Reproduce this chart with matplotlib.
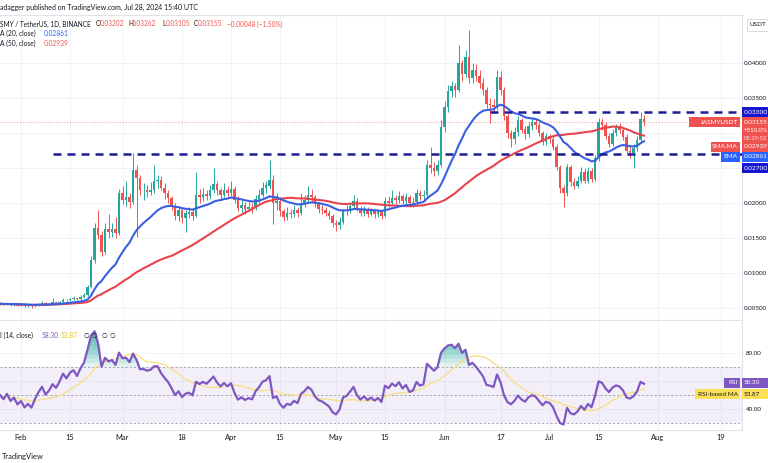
import numpy as np
import pandas as pd
import matplotlib
matplotlib.use('Agg')
import matplotlib.pyplot as plt
import matplotlib.dates as mdates
from matplotlib.patches import Rectangle

plt.rcParams['font.family'] = ['Lato', 'DejaVu Sans']

# daily JASMY/USDT candles (open = previous close)
start_date = '2024-01-26'
first_open = 0.00565
closes = [
    0.00560, 0.00550, 0.00562, 0.00545, 0.00552, 0.00535, 0.00542, 0.00525, 0.00532, 0.00522,
    0.00540, 0.00556, 0.00570, 0.00552, 0.00562, 0.00580, 0.00572, 0.00590, 0.00618, 0.00608,
    0.00630, 0.00640, 0.00628, 0.00660, 0.00690, 0.00800, 0.01190, 0.01650, 0.01550, 0.01300,
    0.01630, 0.01580, 0.01635, 0.01570, 0.02140, 0.02050, 0.02080, 0.02010, 0.02470, 0.02360,
    0.02180, 0.02190, 0.02160, 0.02190, 0.02320, 0.02330, 0.02220, 0.02140, 0.02070, 0.01960,
    0.01820, 0.01900, 0.01780, 0.01850, 0.01870, 0.01820, 0.02120, 0.02080, 0.02130, 0.02100,
    0.02180, 0.02270, 0.02180, 0.02120, 0.02190, 0.02140, 0.02200, 0.02050, 0.01930, 0.01970,
    0.01920, 0.01950, 0.01930, 0.02050, 0.02120, 0.02220, 0.02250, 0.02330, 0.02000, 0.02030,
    0.01880, 0.01800, 0.01860, 0.01840, 0.01900, 0.01860, 0.02000, 0.02050, 0.02120, 0.02080,
    0.01980, 0.01920, 0.01900, 0.01860, 0.01820, 0.01720, 0.01680, 0.01730, 0.01880, 0.01900,
    0.01960, 0.02030, 0.01920, 0.01860, 0.01900, 0.01850, 0.01880, 0.01840, 0.01870, 0.01820,
    0.02030, 0.02000, 0.02070, 0.02040, 0.02100, 0.02030, 0.02080, 0.02000, 0.02020, 0.02140,
    0.02100, 0.02120, 0.02540, 0.02500, 0.02460, 0.02550, 0.03090, 0.03370, 0.03600, 0.03670,
    0.03620, 0.04000, 0.03850, 0.04080, 0.03790, 0.03900, 0.03820, 0.03720, 0.03620, 0.03420,
    0.03400, 0.03370, 0.03800, 0.03620, 0.03240, 0.03000, 0.02920, 0.03020, 0.03180, 0.03050,
    0.02980, 0.03100, 0.03160, 0.03120, 0.03000, 0.02870, 0.02950, 0.02920, 0.02800, 0.02510,
    0.02210, 0.02140, 0.02510, 0.02300, 0.02250, 0.02320, 0.02450, 0.02320, 0.02460, 0.02350,
    0.02640, 0.03160, 0.03120, 0.02960, 0.02850, 0.03000, 0.03080, 0.03050, 0.02950, 0.02750,
    0.02720, 0.02780, 0.02900, 0.03202, 0.03155,
]
highs = [
    0.00580, 0.00570, 0.00575, 0.00570, 0.00565, 0.00560, 0.00555, 0.00550, 0.00545, 0.00540,
    0.00555, 0.00570, 0.00600, 0.00580, 0.00575, 0.00640, 0.00595, 0.00605, 0.00640, 0.00630,
    0.00650, 0.00665, 0.00650, 0.00680, 0.00720, 0.0083, 0.0124, 0.0172, 0.0190, 0.0160,
    0.0172, 0.0185, 0.0172, 0.0180, 0.0220, 0.0225, 0.0232, 0.0215, 0.0272, 0.0255,
    0.0240, 0.0228, 0.0226, 0.0230, 0.0255, 0.0240, 0.0238, 0.0228, 0.0218, 0.0210,
    0.0200, 0.0196, 0.0194, 0.0190, 0.0195, 0.0192, 0.0245, 0.0220, 0.0222, 0.0218,
    0.0226, 0.0250, 0.0232, 0.0222, 0.0228, 0.0224, 0.0232, 0.0224, 0.0210, 0.0204,
    0.0201, 0.0202, 0.0200, 0.0212, 0.0220, 0.0230, 0.0232, 0.0262, 0.0240, 0.0215,
    0.0208, 0.0192, 0.0194, 0.0192, 0.0197, 0.0195, 0.0215, 0.0212, 0.0225, 0.0220,
    0.0212, 0.0202, 0.0197, 0.0194, 0.0190, 0.0185, 0.0176, 0.0180, 0.0192, 0.0197,
    0.0202, 0.0212, 0.0207, 0.0196, 0.0196, 0.0194, 0.0193, 0.0191, 0.0192, 0.0190,
    0.0208, 0.0210, 0.0218, 0.0212, 0.0217, 0.0213, 0.0214, 0.0211, 0.0208, 0.0220,
    0.0218, 0.0218, 0.0262, 0.0280, 0.0258, 0.0262, 0.0318, 0.0345, 0.0368, 0.0375,
    0.0372, 0.0426, 0.0405, 0.0418, 0.0447, 0.0400, 0.0398, 0.0390, 0.0378, 0.0366,
    0.0350, 0.0348, 0.0390, 0.0388, 0.0366, 0.0328, 0.0304, 0.0308, 0.0325, 0.0322,
    0.0310, 0.0316, 0.0322, 0.0320, 0.0316, 0.0303, 0.0300, 0.0299, 0.0296, 0.0284,
    0.0254, 0.0226, 0.0256, 0.0254, 0.0236, 0.0238, 0.0252, 0.0250, 0.0252, 0.0250,
    0.0268, 0.0322, 0.0322, 0.0316, 0.0300, 0.0306, 0.0313, 0.0314, 0.0309, 0.0298,
    0.0282, 0.0284, 0.0296, 0.0330, 0.03262,
]
lows = [
    0.00550, 0.00540, 0.00545, 0.00535, 0.00535, 0.00525, 0.00525, 0.00510, 0.00515, 0.00505,
    0.00515, 0.00530, 0.00550, 0.00540, 0.00545, 0.00555, 0.00560, 0.00565, 0.00585, 0.00595,
    0.00600, 0.00620, 0.00615, 0.00620, 0.00650, 0.0067, 0.0078, 0.0115, 0.0148, 0.0124,
    0.0127, 0.0150, 0.0152, 0.0150, 0.0154, 0.0198, 0.0196, 0.0193, 0.0198, 0.0151,
    0.0212, 0.0205, 0.0208, 0.0212, 0.0215, 0.0222, 0.0218, 0.0206, 0.0200, 0.0190,
    0.0176, 0.0175, 0.0172, 0.0158, 0.0178, 0.0176, 0.0180, 0.0200, 0.0203, 0.0204,
    0.0206, 0.0214, 0.0212, 0.0206, 0.0208, 0.0208, 0.0210, 0.0200, 0.0188, 0.0187,
    0.0185, 0.0188, 0.0186, 0.0190, 0.0200, 0.0208, 0.0215, 0.0220, 0.0170, 0.0190,
    0.0182, 0.0174, 0.0176, 0.0178, 0.0180, 0.0180, 0.0183, 0.0195, 0.0200, 0.0202,
    0.0194, 0.0186, 0.0185, 0.0181, 0.0177, 0.0166, 0.0160, 0.0163, 0.0170, 0.0183,
    0.0186, 0.0192, 0.0188, 0.0181, 0.0182, 0.0180, 0.0181, 0.0179, 0.0180, 0.0177,
    0.0180, 0.0194, 0.0197, 0.0199, 0.0200, 0.0198, 0.0199, 0.0195, 0.0195, 0.0198,
    0.0204, 0.0205, 0.0208, 0.0243, 0.0238, 0.0240, 0.0252, 0.0302, 0.0330, 0.0352,
    0.0352, 0.0358, 0.0375, 0.0380, 0.0372, 0.0372, 0.0374, 0.0365, 0.0355, 0.0336,
    0.0315, 0.0328, 0.0333, 0.0355, 0.0318, 0.0293, 0.0280, 0.0285, 0.0296, 0.0300,
    0.0292, 0.0294, 0.0305, 0.0306, 0.0296, 0.0283, 0.0283, 0.0286, 0.0276, 0.0247,
    0.0215, 0.0194, 0.0210, 0.0225, 0.0220, 0.0221, 0.0228, 0.0228, 0.0229, 0.0230,
    0.0232, 0.0260, 0.0305, 0.0292, 0.0280, 0.0282, 0.0296, 0.0300, 0.0290, 0.0270,
    0.0265, 0.0250, 0.0274, 0.0287, 0.03105,
]

# horizontal levels drawn by the author
support_level = 0.02700
support_from = '2024-02-10'
resistance_level = 0.03300
resistance_from = '2024-06-14'

price_ticks = [0.005, 0.010, 0.015, 0.020, 0.025, 0.030, 0.035, 0.040]
hidden_price_ticks = [0.025, 0.030]   # covered by the price labels
rsi_ticks = [40, 60, 80]
tick_dates = ['2024-02-01', '2024-02-15', '2024-03-01', '2024-03-18', '2024-04-01',
              '2024-04-15', '2024-05-01', '2024-05-15', '2024-06-01', '2024-06-17',
              '2024-07-01', '2024-07-15', '2024-08-01', '2024-08-19']
tick_labels = ['Feb', '15', 'Mar', '18', 'Apr', '15', 'May', '15', 'Jun', '17',
               'Jul', '15', 'Aug', '19']

# ---- indicators
dates = pd.date_range(start_date, periods=len(closes), freq='D')
close = pd.Series(closes, index=dates)
opens = close.shift(1).fillna(first_open).values
hi = np.array(highs)
lo = np.array(lows)
cl = close.values

ema20 = close.ewm(span=20, adjust=False).mean()
sma50 = close.rolling(50, min_periods=1).mean()

# Wilder RSI(14), seeded as if it started neutral
seed = 0.00006
ag, al = seed, seed
rsi_vals = [50.0]
for d in close.diff().values[1:]:
    ag = (ag * 13 + max(d, 0)) / 14
    al = (al * 13 + max(-d, 0)) / 14
    rsi_vals.append(100 - 100 / (1 + ag / al))
rsi = pd.Series(rsi_vals, index=dates)
rsi_ma = rsi.rolling(14, min_periods=1).mean()

# ---- figure
W, H = 768, 463
fig = plt.figure(figsize=(W / 100, H / 100), dpi=100)
fig.patch.set_facecolor('white')

def fx(x):
    return x / W

def fy(y):
    return 1 - y / H

ax = fig.add_axes([0, fy(320), fx(742), (320 - 15) / H])
axr = fig.add_axes([0, fy(430), fx(742), (430 - 321) / H], sharex=ax)

GREEN = '#26a69a'
RED = '#ef5350'
GRID = '#f0f3fa'
TXT = '#131722'

x = mdates.date2num(dates)
x_left = mdates.date2num(pd.Timestamp('2024-01-26'))
x_right = x_left + 212
ax.set_xlim(x_left, x_right)
ax.set_ylim(0.04 - 257 / 7000, 0.04 + 48 / 7000)

up = cl >= opens
colors = np.where(up, GREEN, RED)
ax.vlines(x, lo, hi, colors=colors, lw=0.7, zorder=3)
body_lo = np.minimum(opens, cl)
body_h = np.maximum(np.abs(cl - opens), 0.00006)
ax.bar(x, body_h, bottom=body_lo, width=0.72, color=colors, lw=0, zorder=4)

ax.plot(x, sma50.values, color='#e8434a', lw=1.5, zorder=5)
ax.plot(x, ema20.values, color='#3a5fe0', lw=1.5, zorder=5)

ax.axhline(cl[-1], color='#f4a7a6', lw=0.8, ls=(0, (1, 1.5)), zorder=2)
lvl_color = '#1d1d96'
ax.hlines(support_level, mdates.date2num(pd.Timestamp(support_from)), x_right,
          color=lvl_color, lw=1.8, linestyles=(0, (3.2, 2.4)), zorder=6)
ax.hlines(resistance_level, mdates.date2num(pd.Timestamp(resistance_from)), x_right,
          color=lvl_color, lw=1.8, linestyles=(0, (3.2, 2.4)), zorder=6)

tick_x = mdates.date2num(pd.to_datetime(tick_dates))
for a in (ax, axr):
    a.set_xticks(tick_x)
    a.grid(True, color=GRID, lw=0.7)
    a.set_axisbelow(True)
    for s in a.spines.values():
        s.set_color('#e0e3eb')
        s.set_linewidth(0.8)
    a.spines['left'].set_visible(False)
    a.yaxis.tick_right()
    a.tick_params(length=0, labelsize=4.5, colors=TXT, pad=1.5)

ax.set_yticks(price_ticks)
ax.set_yticklabels(['' if p in hidden_price_ticks else '%.5f' % p for p in price_ticks])
ax.tick_params(axis='x', labelbottom=False)

# ---- RSI pane
axr.set_ylim(25, 80 + 32 / 1.4)
axr.set_yticks(rsi_ticks)
axr.set_yticklabels(['' if r == 60 else '%.2f' % r for r in rsi_ticks])
axr.set_xticklabels(tick_labels)
axr.tick_params(axis='x', labelsize=5.4, pad=3)
axr.tick_params(axis='y', pad=3)
axr.spines['top'].set_visible(False)

axr.axhspan(30, 70, color='#7e57c2', alpha=0.09, lw=0)
for lv in (70, 50, 30):
    axr.axhline(lv, color='#9598a1', lw=0.6, ls=(0, (2.5, 2.5)))
rv = rsi.values
for lev in range(70, 100, 3):
    axr.fill_between(x, lev, np.maximum(rv, lev), where=rv > lev,
                     color='#26a69a', alpha=0.13, lw=0, interpolate=True)
for lev in range(30, 10, -3):
    axr.fill_between(x, lev, np.minimum(rv, lev), where=rv < lev,
                     color='#ef5350', alpha=0.13, lw=0, interpolate=True)
axr.plot(x, rsi_ma.values, color='#f7e08a', lw=1.0, zorder=4)
axr.plot(x, rv, color='#7e57c2', lw=1.6, zorder=5)

# ---- header and legend text
fs = 4.8
fig.text(fx(0), fy(7), 'adagger published on TradingView.com, Jul 28, 2024 15:40 UTC',
         fontsize=5.0, color=TXT, va='center')
row = [(0, 'SMY / TetherUS, 1D, BINANCE', TXT), (96, 'O', TXT), (100, '0.03202', RED),
       (128, 'H', TXT), (132, '0.03262', RED), (162, 'L', TXT), (165.5, '0.03105', RED),
       (194, 'C', TXT), (198, '0.03155', RED), (227, '\u22120.00048 (\u22121.50%)', RED)]
for xp, s, c in row:
    fig.text(fx(xp), fy(24), s, fontsize=4.7, color=c, va='center')
fig.text(fx(0), fy(33.5), 'A (20, close)', fontsize=fs, color=TXT, va='center')
fig.text(fx(44), fy(33.5), '0.02861', fontsize=fs, color='#2962ff', va='center')
fig.text(fx(0), fy(43.5), 'A (50, close)', fontsize=fs, color=TXT, va='center')
fig.text(fx(44), fy(43.5), '0.02939', fontsize=fs, color=RED, va='center')

fig.text(fx(0), fy(335), 'I (14, close)', fontsize=fs, color=TXT, va='center')
fig.text(fx(42), fy(335), '%.2f' % 58.30, fontsize=fs, color='#7e57c2', va='center')
fig.text(fx(61), fy(335), '%.2f' % 53.87, fontsize=fs, color='#e6c229', va='center')
for xp in (83, 92, 101, 110):
    fig.text(fx(xp), fy(335), '\u2205', fontsize=fs, color=TXT, va='center')

fig.text(fx(2), fy(456), 'TradingView', fontsize=5.4, color=TXT, va='center')

# ---- price-scale labels
def box(x0, x1, y0, y1, color, ec='none'):
    fig.add_artist(Rectangle((fx(x0), fy(y1)), fx(x1) - fx(x0), (y1 - y0) / H,
                             transform=fig.transFigure, fc=color, ec=ec, lw=0.6, zorder=10))

def label(x0, x1, yc, text, color, tcolor='white', align='left', size=4.6):
    box(x0, x1, yc - 5, yc + 5, color)
    tx = x0 + 2 if align == 'left' else x1 - 2
    fig.text(fx(tx), fy(yc), text, fontsize=size, color=tcolor, va='center',
             ha=align, zorder=11)

box(747, 770, 19, 31, 'white', ec='#d1d4dc')
fig.text(fx(750), fy(25), 'USDT', fontsize=4.6, color=TXT, va='center', zorder=11)

label(742, 770, 112, '%.5f' % resistance_level, '#1616d0')
box(742, 770, 117, 143, RED)
fig.text(fx(744), fy(122), '%.5f' % cl[-1], fontsize=4.6, color='white', va='center', zorder=11)
fig.text(fx(744), fy(130.5), '+510.0%', fontsize=4.4, color='white', va='center', zorder=11)
fig.text(fx(744), fy(138.5), '08:19:52', fontsize=4.2, color='#fde0df', va='center', zorder=11)
label(689, 740, 122, 'JASMYUSDT', RED, align='right')
label(711, 740, 147, 'SMA:MA', RED, align='right')
label(742, 770, 147, '0.02939', RED)
label(721, 740, 157, 'EMA', '#2962ff', align='right')
label(742, 770, 157, '0.02861', '#2962ff')
label(742, 770, 168, '%.5f' % support_level, '#1616d0')

label(724, 740, 383, 'RSI', '#7e57c2', align='right')
label(742, 770, 383, '58.30', '#7e57c2')
label(695, 740, 394, 'RSI-based MA', '#fbe05a', tcolor=TXT, align='right')
label(742, 770, 394, '53.87', '#fbe05a', tcolor=TXT)

fig.savefig('out.png', dpi=100, facecolor='white')
